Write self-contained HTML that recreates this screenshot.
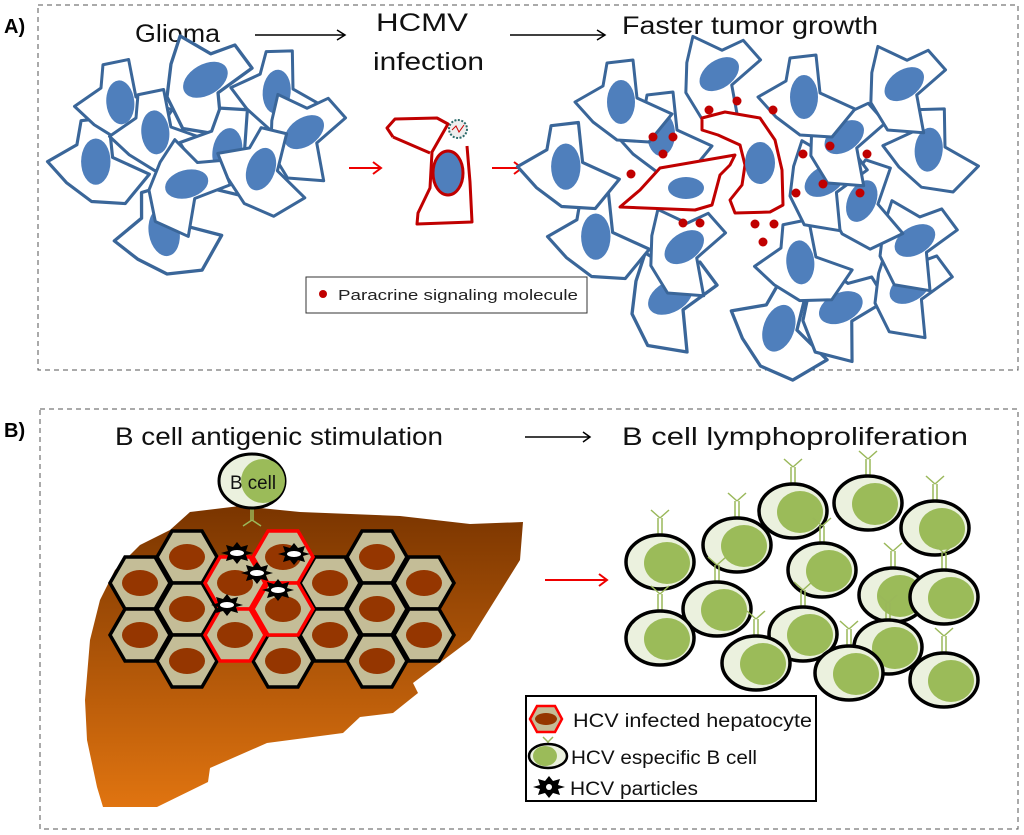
<!DOCTYPE html>
<html><head><meta charset="utf-8"><style>
body{margin:0;background:#fff;}
svg{display:block;font-family:"Liberation Sans",sans-serif;}
</style></head><body>
<svg width="1024" height="835" viewBox="0 0 1024 835" xmlns="http://www.w3.org/2000/svg">
<defs>
<linearGradient id="liv" x1="0" y1="0" x2="0" y2="1">
<stop offset="0" stop-color="#7a3500"/><stop offset="1" stop-color="#e07410"/>
</linearGradient>
<g id="cell">
<path d="M-50,-8 L-22,-24 L-18,-47 L8,-50 L12,-12 L47,4 L24,32 L-8,30 L-32,12 Z" fill="#fff" stroke="#3a6699" stroke-width="3" stroke-linejoin="round"/>
<ellipse cx="-4" cy="-8" rx="14" ry="22" fill="#4f7fbc"/>
</g>
<path id="hex" d="M-30,0 L-15,-26 L15,-26 L30,0 L15,26 L-15,26 Z"/>
<g id="bc">
<path d="M-2,-26 V-44 M2,-26 V-44 M0,-44 L-9,-52 M0,-44 L9,-52" stroke="#9ab85a" stroke-width="1.5" fill="none"/>
<ellipse cx="0" cy="0" rx="34" ry="27" fill="#ebf1de" stroke="#000" stroke-width="3.5"/>
<ellipse cx="7" cy="1" rx="23" ry="21" fill="#9bbb59"/>
</g>
<g id="vir">
<polygon points="0,-11 4,-6 11,-8 9,-2 16,0 9,2 11,8 4,6 0,11 -4,6 -11,8 -9,2 -16,0 -9,-2 -11,-8 -4,-6" fill="#000"/>
<ellipse cx="0" cy="0" rx="7" ry="3" fill="#fff"/>
</g>
</defs>

<rect x="38" y="5" width="980" height="365" fill="none" stroke="#555" stroke-width="1" stroke-dasharray="5,4"/>
<rect x="40" y="409" width="978" height="420" fill="none" stroke="#555" stroke-width="1" stroke-dasharray="5,4"/>
<text x="4" y="33" font-size="20" font-weight="bold">A)</text>
<text x="4" y="437" font-size="20" font-weight="bold">B)</text>

<text x="135" y="42" font-size="25" fill="#111" textLength="85" lengthAdjust="spacingAndGlyphs">Glioma</text>
<text x="376" y="31" font-size="25" fill="#111" textLength="92" lengthAdjust="spacingAndGlyphs">HCMV</text>
<text x="373" y="70" font-size="25" fill="#111" textLength="111" lengthAdjust="spacingAndGlyphs">infection</text>
<text x="622" y="34" font-size="25" fill="#111" textLength="256" lengthAdjust="spacingAndGlyphs">Faster tumor growth</text>
<g stroke="#000" stroke-width="1.5" fill="none">
<path d="M255,35 H345 M337,30 L345,35 L337,40"/>
<path d="M510,35 H605 M597,30 L605,35 L597,40"/>
</g>
<g stroke="#e00" stroke-width="2" fill="none">
<path d="M349,168 H381 M373,162 L381,168 L373,174"/>
<path d="M492,168 H522 M514,162 L522,168 L514,174"/>
<path d="M525,437 H590" stroke="#000" stroke-width="1.5"/>
<path d="M583,432 L590,437 L583,442" stroke="#000" stroke-width="1.5"/>
<path d="M545,580 H607 M599,574 L607,580 L599,586"/>
</g>

<use href="#cell" transform="translate(170,240) rotate(-10) scale(1.1)"/>
<use href="#cell" transform="translate(100,170) rotate(0) scale(1.05)"/>
<use href="#cell" transform="translate(125,110) rotate(-5)"/>
<use href="#cell" transform="translate(200,88) rotate(60) scale(1.1)"/>
<use href="#cell" transform="translate(160,140) rotate(-5)"/>
<use href="#cell" transform="translate(280,100) rotate(5)"/>
<use href="#cell" transform="translate(300,140) rotate(55)"/>
<use href="#cell" transform="translate(230,160) rotate(10) scale(1.05)"/>
<use href="#cell" transform="translate(180,190) rotate(75)"/>
<use href="#cell" transform="translate(262,178) rotate(20)"/>

<path d="M393,137 L387,128 L395,119 L437,118 L448,124 L432,152 L430,188 L418,213 L417,224 L472,222 L470,182 L467,146" fill="none" stroke="#c00000" stroke-width="3" stroke-linejoin="round"/>
<path d="M393,137 L430,153" fill="none" stroke="#c00000" stroke-width="3"/>
<ellipse cx="448" cy="173" rx="15" ry="22" fill="#4f7fbc" stroke="#c00000" stroke-width="3"/>
<circle cx="458" cy="129" r="9" fill="#eee" stroke="#2a6a6a" stroke-width="2" stroke-dasharray="2,1.5"/>
<path d="M452,130 L456,126 L459,132 L464,125" stroke="#c00" fill="none" stroke-width="1"/>

<use href="#cell" transform="translate(780,338) rotate(20) scale(1.1)"/>
<use href="#cell" transform="translate(665,305) rotate(60) scale(1.1)"/>
<use href="#cell" transform="translate(835,315) rotate(65) scale(1.05)"/>
<use href="#cell" transform="translate(905,295) rotate(60)"/>
<use href="#cell" transform="translate(600,245) rotate(0) scale(1.05)"/>
<use href="#cell" transform="translate(680,255) rotate(55)"/>
<use href="#cell" transform="translate(805,270) rotate(-5)"/>
<use href="#cell" transform="translate(910,248) rotate(60)"/>
<use href="#cell" transform="translate(862,210) rotate(25)"/>
<use href="#cell" transform="translate(570,175) rotate(0) scale(1.05)"/>
<use href="#cell" transform="translate(820,188) rotate(60)"/>
<use href="#cell" transform="translate(932,158) rotate(5)"/>
<use href="#cell" transform="translate(840,145) rotate(55)"/>
<use href="#cell" transform="translate(665,142) rotate(0)"/>
<use href="#cell" transform="translate(625,110) rotate(0)"/>
<use href="#cell" transform="translate(715,82) rotate(55)"/>
<use href="#cell" transform="translate(808,105) rotate(0)"/>
<use href="#cell" transform="translate(900,92) rotate(55)"/>
<path d="M620,207 L640,190 L660,168 L735,155 L730,165 L720,175 L712,205 L695,210 Z" fill="#fff" stroke="#c00000" stroke-width="3" stroke-linejoin="round"/>
<ellipse cx="686" cy="188" rx="18" ry="11" fill="#4f7fbc"/>
<path d="M702,118 L725,112 L760,118 L775,140 L782,170 L783,205 L770,212 L735,213 L730,200 L742,185 L745,165 L740,145 L718,135 L702,130 Z" fill="#fff" stroke="#c00000" stroke-width="3" stroke-linejoin="round"/>
<ellipse cx="760" cy="163" rx="15" ry="21" fill="#4f7fbc"/>
<g fill="#c00000">
<circle cx="709" cy="110" r="4.5"/><circle cx="737" cy="101" r="4.5"/><circle cx="773" cy="110" r="4.5"/>
<circle cx="653" cy="137" r="4.5"/><circle cx="673" cy="137" r="4.5"/><circle cx="663" cy="154" r="4.5"/>
<circle cx="631" cy="174" r="4.5"/><circle cx="803" cy="154" r="4.5"/><circle cx="830" cy="146" r="4.5"/>
<circle cx="867" cy="154" r="4.5"/><circle cx="823" cy="184" r="4.5"/><circle cx="796" cy="193" r="4.5"/>
<circle cx="860" cy="193" r="4.5"/><circle cx="683" cy="223" r="4.5"/><circle cx="700" cy="223" r="4.5"/>
<circle cx="755" cy="224" r="4.5"/><circle cx="774" cy="224" r="4.5"/><circle cx="763" cy="242" r="4.5"/>
</g>

<rect x="306" y="277" width="281" height="36" fill="#fff" stroke="#333" stroke-width="1"/>
<circle cx="323" cy="294" r="4" fill="#c00000"/>
<text x="338" y="300" font-size="15" fill="#222" textLength="240" lengthAdjust="spacingAndGlyphs">Paracrine signaling molecule</text>

<text x="115" y="445" font-size="25" fill="#111" textLength="328" lengthAdjust="spacingAndGlyphs">B cell antigenic stimulation</text>
<text x="622" y="445" font-size="25" fill="#111" textLength="346" lengthAdjust="spacingAndGlyphs">B cell lymphoproliferation</text>

<path d="M190,512 L240,506 L300,512 L400,516 L470,524 L523,522 L520,560 L470,640 L413,683 L418,693 L393,713 L360,717 L343,733 L267,743 L210,768 L208,782 L157,807 L103,807 L97,787 L87,740 L85,700 L90,640 L100,600 L115,570 L140,545 L170,530 Z" fill="url(#liv)"/>

<g fill="#c4bd97" stroke="#000" stroke-width="3.5">
<use href="#hex" x="140" y="583"/><use href="#hex" x="140" y="635"/>
<use href="#hex" x="187" y="557"/><use href="#hex" x="187" y="609"/><use href="#hex" x="187" y="661"/>
<use href="#hex" x="283" y="661"/>
<use href="#hex" x="330" y="583"/><use href="#hex" x="330" y="635"/>
<use href="#hex" x="377" y="557"/><use href="#hex" x="377" y="609"/><use href="#hex" x="377" y="661"/>
<use href="#hex" x="424" y="583"/><use href="#hex" x="424" y="635"/>
</g>
<g fill="#c4bd97" stroke="#f00" stroke-width="3.5">
<use href="#hex" x="235" y="583"/><use href="#hex" x="235" y="635"/>
<use href="#hex" x="283" y="557"/><use href="#hex" x="283" y="609"/>
</g>
<g fill="#953600">
<ellipse cx="140" cy="583" rx="18" ry="13"/><ellipse cx="140" cy="635" rx="18" ry="13"/>
<ellipse cx="187" cy="557" rx="18" ry="13"/><ellipse cx="187" cy="609" rx="18" ry="13"/><ellipse cx="187" cy="661" rx="18" ry="13"/>
<ellipse cx="235" cy="583" rx="18" ry="13"/><ellipse cx="235" cy="635" rx="18" ry="13"/>
<ellipse cx="283" cy="557" rx="18" ry="13"/><ellipse cx="283" cy="609" rx="18" ry="13"/><ellipse cx="283" cy="661" rx="18" ry="13"/>
<ellipse cx="330" cy="583" rx="18" ry="13"/><ellipse cx="330" cy="635" rx="18" ry="13"/>
<ellipse cx="377" cy="557" rx="18" ry="13"/><ellipse cx="377" cy="609" rx="18" ry="13"/><ellipse cx="377" cy="661" rx="18" ry="13"/>
<ellipse cx="424" cy="583" rx="18" ry="13"/><ellipse cx="424" cy="635" rx="18" ry="13"/>
</g>
<use href="#vir" x="237" y="553"/><use href="#vir" x="294" y="554"/><use href="#vir" x="257" y="573"/>
<use href="#vir" x="278" y="590"/><use href="#vir" x="227" y="605"/>

<path d="M253,506 V520 M251,506 V520 M252,520 L243,526 M252,520 L261,526" stroke="#9ab85a" stroke-width="1.5" fill="none"/>
<ellipse cx="252" cy="481" rx="33" ry="27" fill="#ebf1de" stroke="#000" stroke-width="3"/>
<ellipse cx="263" cy="481" rx="22" ry="22" fill="#9bbb59"/>
<text x="230" y="489" font-size="19" fill="#111" textLength="46" lengthAdjust="spacingAndGlyphs">B cell</text>

<use href="#bc" x="793" y="511"/><use href="#bc" x="868" y="503"/><use href="#bc" x="935" y="528"/>
<use href="#bc" x="737" y="545"/><use href="#bc" x="660" y="562"/><use href="#bc" x="822" y="570"/>
<use href="#bc" x="717" y="609"/><use href="#bc" x="893" y="595"/><use href="#bc" x="944" y="597"/>
<use href="#bc" x="660" y="638"/><use href="#bc" x="803" y="634"/><use href="#bc" x="888" y="647"/>
<use href="#bc" x="756" y="663"/><use href="#bc" x="849" y="673"/><use href="#bc" x="944" y="680"/>

<rect x="526" y="696" width="290" height="105" fill="#fff" stroke="#000" stroke-width="2"/>
<path d="M530,719 L537,706 L555,706 L562,719 L555,732 L537,732 Z" fill="#c4bd97" stroke="#f00" stroke-width="2.5"/>
<ellipse cx="546" cy="719" rx="11" ry="6" fill="#953600"/>
<text x="573" y="727" font-size="19" fill="#111" textLength="239" lengthAdjust="spacingAndGlyphs">HCV infected hepatocyte</text>
<path d="M548,742 V752 M548,742 L543,737 M548,742 L553,737" stroke="#9ab85a" stroke-width="1.5" fill="none"/>
<ellipse cx="548" cy="756" rx="19" ry="12" fill="#ebf1de" stroke="#000" stroke-width="2.5"/>
<ellipse cx="545" cy="756" rx="12" ry="10" fill="#9bbb59"/>
<text x="571" y="764" font-size="19" fill="#111" textLength="186" lengthAdjust="spacingAndGlyphs">HCV especific B cell</text>
<polygon points="549,776 553,781 560,779 558,785 565,787 558,789 560,795 553,793 549,798 545,793 538,795 540,789 533,787 540,785 538,779 545,781" fill="#000"/>
<circle cx="549" cy="787" r="3" fill="#fff"/>
<text x="570" y="795" font-size="19" fill="#111" textLength="128" lengthAdjust="spacingAndGlyphs">HCV particles</text>
</svg>
</body></html>
